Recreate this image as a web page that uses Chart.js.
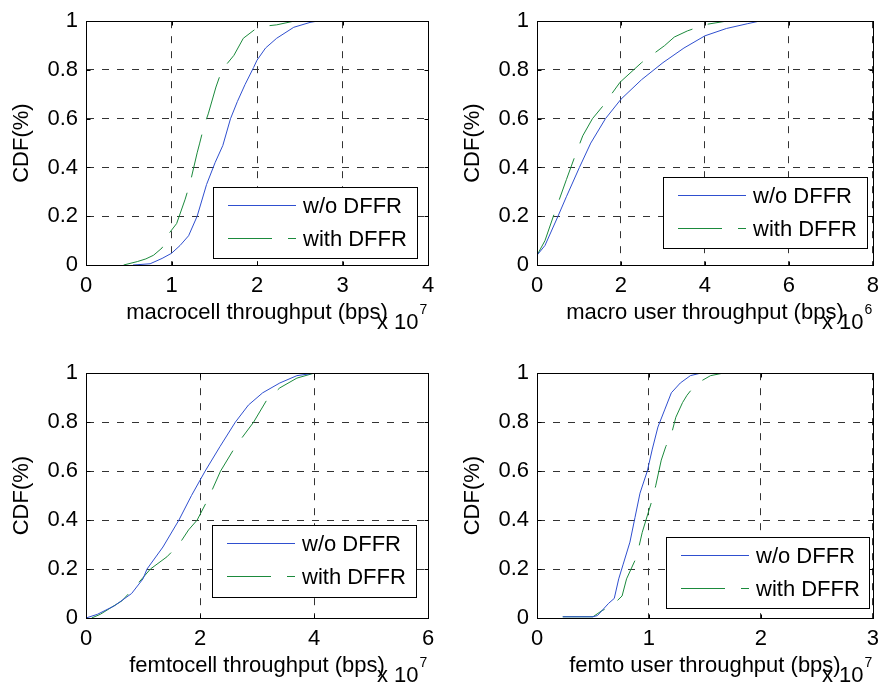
<!DOCTYPE html>
<html>
<head>
<meta charset="utf-8">
<script src="https://cdn.jsdelivr.net/npm/chart.js@4/dist/chart.umd.min.js"></script>
<style>
  html, body { margin: 0; padding: 0; background: #fff; overflow: hidden; }
  #wrap { position: relative; width: 887px; height: 687px; }
  canvas { position: absolute; }
</style>
</head>
<body>
<div id="wrap">
  <canvas id="c1" width="443" height="343" style="left:0;top:0"></canvas>
  <canvas id="c2" width="436" height="343" style="left:451px;top:0"></canvas>
  <canvas id="c3" width="443" height="335" style="left:0;top:352px"></canvas>
  <canvas id="c4" width="436" height="335" style="left:451px;top:352px"></canvas>
</div>
<script>
// series names
var seriesNames = ['w/o DFFR', 'with DFFR'];

// macrocell throughput (x 10^7 bps)
var macroCellX_wo   = [0.55, 0.75, 0.89, 1.0, 1.1, 1.2, 1.3, 1.41, 1.51, 1.6, 1.69, 1.77, 1.86, 1.96, 2.0, 2.1, 2.23, 2.43, 2.62, 2.7, 3.25];
var macroCellCdf_wo = [0, 0.005, 0.027, 0.048, 0.08, 0.12, 0.2, 0.33, 0.42, 0.49, 0.6, 0.67, 0.74, 0.81, 0.84, 0.89, 0.93, 0.975, 0.995, 1, 1];
var macroCellX_with   = [0.44, 0.6, 0.7, 0.79, 0.89, 0.95, 1.06, 1.16, 1.22, 1.3, 1.33, 1.38, 1.43, 1.52, 1.59, 1.73, 1.84, 1.99, 2.1, 2.23, 2.43, 2.7];
var macroCellCdf_with = [0, 0.014, 0.025, 0.04, 0.07, 0.12, 0.17, 0.27, 0.34, 0.46, 0.5, 0.57, 0.62, 0.73, 0.8, 0.86, 0.93, 0.97, 0.98, 0.985, 1, 1];

// macro user throughput (x 10^6 bps)
var macroUserX_wo   = [0, 0.19, 0.5, 0.7, 1.01, 1.28, 1.63, 2.0, 2.49, 3.0, 3.5, 4.0, 4.51, 5.02, 5.29, 6.3];
var macroUserCdf_wo = [0.04, 0.08, 0.2, 0.28, 0.4, 0.5, 0.6, 0.68, 0.76, 0.83, 0.89, 0.94, 0.97, 0.99, 1, 1];
var macroUserX_with   = [0, 0.19, 0.43, 0.7, 0.89, 1.09, 1.32, 1.56, 1.98, 2.49, 3.04, 3.27, 3.58, 4.0, 4.5, 5.6];
var macroUserCdf_with = [0.04, 0.1, 0.22, 0.35, 0.44, 0.53, 0.6, 0.65, 0.75, 0.83, 0.9, 0.935, 0.96, 0.986, 1, 1];

// femtocell throughput (x 10^7 bps)
var femtoCellX_wo   = [0, 0.2, 0.5, 0.8, 1.0, 1.07, 1.35, 1.63, 1.85, 2.09, 2.35, 2.62, 2.85, 3.1, 3.4, 3.7, 4.0];
var femtoCellCdf_wo = [0, 0.015, 0.05, 0.1, 0.16, 0.2, 0.29, 0.4, 0.5, 0.6, 0.7, 0.8, 0.87, 0.92, 0.96, 0.99, 1];
var femtoCellX_with   = [0.1, 0.25, 0.63, 0.87, 1.13, 1.42, 1.63, 1.8, 1.95, 2.15, 2.36, 2.62, 2.94, 3.17, 3.4, 3.7, 4.0, 4.3];
var femtoCellCdf_with = [0, 0.015, 0.07, 0.13, 0.2, 0.25, 0.3, 0.36, 0.4, 0.49, 0.6, 0.7, 0.8, 0.89, 0.94, 0.98, 1, 1];

// femto user throughput (x 10^7 bps)
var femtoUserX_wo   = [0.23, 0.5, 0.54, 0.64, 0.69, 0.73, 0.77, 0.83, 0.875, 0.92, 0.985, 1.03, 1.08, 1.14, 1.2, 1.28, 1.37, 1.46];
var femtoUserCdf_wo = [0.005, 0.005, 0.01, 0.06, 0.08, 0.16, 0.22, 0.31, 0.41, 0.51, 0.6, 0.69, 0.78, 0.85, 0.92, 0.96, 0.99, 1];
var femtoUserX_with   = [0.23, 0.5, 0.58, 0.67, 0.76, 0.8, 0.89, 0.94, 1.02, 1.06, 1.11, 1.15, 1.2, 1.24, 1.3, 1.34, 1.42, 1.55, 1.66, 2.0];
var femtoUserCdf_with = [0.005, 0.005, 0.03, 0.05, 0.09, 0.16, 0.25, 0.35, 0.47, 0.54, 0.645, 0.7, 0.75, 0.82, 0.88, 0.91, 0.956, 0.99, 1, 1];

// axes
var yTicks = [0, 0.2, 0.4, 0.6, 0.8, 1];
var xMax = [4, 8, 6, 3];
var xStep = [1, 2, 2, 1];
var xTitles = ['macrocell throughput (bps)', 'macro user throughput (bps)', 'femtocell throughput (bps)', 'femto user throughput (bps)'];
var xExponent = ['7', '6', '7', '7'];

var FONT = '"Liberation Sans", Arial, sans-serif';
var FS = 22;
var BLUE = '#2f4fcf';
var GREEN = '#1b8a3c';
var LINE_DASH = [44, 16];

Chart.defaults.font.family = FONT;
Chart.defaults.color = '#000';

function pts(xs, ys) {
    var out = [];
    for (var i = 0; i < xs.length; i++) out.push({ x: xs[i], y: ys[i] });
    return out;
}

// draws the matlab-like box, inward ticks, titles and legend
var matlabAxes = {
    id: 'matlabAxes',
    afterDraw: function (chart, args, opts) {
        var ctx = chart.ctx, a = chart.chartArea;
        var xs = chart.scales.x, ys = chart.scales.y;
        var L = Math.round(a.left) + 0.5, R = Math.round(a.right) + 0.5;
        var T = Math.round(a.top) + 0.5, B = Math.round(a.bottom) + 0.5;
        ctx.save();
        ctx.strokeStyle = '#000';
        ctx.lineWidth = 1;
        ctx.setLineDash([]);
        ctx.beginPath();
        xs.ticks.forEach(function (t) {
            var px = Math.round(xs.getPixelForValue(t.value)) + 0.5;
            ctx.moveTo(px, B); ctx.lineTo(px, B - 4);
            ctx.moveTo(px, T); ctx.lineTo(px, T + 4);
        });
        ys.ticks.forEach(function (t) {
            var py = Math.round(ys.getPixelForValue(t.value)) + 0.5;
            ctx.moveTo(L, py); ctx.lineTo(L + 4, py);
            ctx.moveTo(R, py); ctx.lineTo(R - 4, py);
        });
        ctx.stroke();
        ctx.strokeRect(L, T, R - L, B - T);

        // axis titles
        ctx.fillStyle = '#000';
        ctx.font = FS + 'px ' + FONT;
        ctx.textAlign = 'center';
        ctx.textBaseline = 'alphabetic';
        ctx.fillText(opts.xTitle, (a.left + a.right) / 2, a.bottom + 54);
        ctx.save();
        ctx.translate(a.left - 64, (a.top + a.bottom) / 2);
        ctx.rotate(-Math.PI / 2);
        ctx.textBaseline = 'middle';
        ctx.fillText('CDF(%)', 0, 0);
        ctx.restore();

        // x 10^n
        ctx.textAlign = 'left';
        var ex = a.right - 51;
        ctx.fillText('x 10', ex, a.bottom + 64);
        var w = ctx.measureText('x 10').width;
        ctx.font = '14px ' + FONT;
        ctx.fillText(opts.exponent, ex + w + 1, a.bottom + 49);

        // legend
        var lg = opts.legend;
        ctx.fillStyle = '#fff';
        ctx.fillRect(lg.x, lg.y, lg.w, lg.h);
        ctx.strokeRect(lg.x + 0.5, lg.y + 0.5, lg.w, lg.h);
        ctx.font = FS + 'px ' + FONT;
        ctx.textBaseline = 'middle';
        chart.data.datasets.forEach(function (ds, i) {
            var ry = Math.round(lg.y + 18 + i * 33) + 0.5;
            ctx.strokeStyle = ds.borderColor;
            ctx.setLineDash(ds.borderDash || []);
            ctx.beginPath();
            ctx.moveTo(lg.x + 15, ry);
            ctx.lineTo(lg.x + 83, ry);
            ctx.stroke();
            ctx.fillStyle = '#000';
            ctx.fillText(ds.label, lg.x + 90, ry + 1);
        });
        ctx.restore();
    }
};

function makeChart(id, wo, wi, idx, canvasH, legendBox) {
    var plotBottom = idx < 2 ? 265 : 266;
    var canvas = document.getElementById(id);
    var rightPad = canvas.width - 428;
    return new Chart(canvas, {
        type: 'scatter',
        data: {
            datasets: [
                { label: seriesNames[0], data: wo, showLine: true, borderColor: BLUE, borderWidth: 1, pointRadius: 0, tension: 0 },
                { label: seriesNames[1], data: wi, showLine: true, borderColor: GREEN, borderWidth: 1, borderDash: LINE_DASH, pointRadius: 0, tension: 0 }
            ]
        },
        options: {
            responsive: false,
            animation: false,
            devicePixelRatio: 1,
            layout: { padding: { left: 0, top: 21, right: rightPad, bottom: 0 } },
            scales: {
                x: {
                    type: 'linear', min: 0, max: xMax[idx],
                    afterFit: function (s) { s.height = canvasH - plotBottom; },
                    ticks: { stepSize: xStep[idx], font: { size: FS }, padding: 8, maxRotation: 0, color: '#000' },
                    grid: { color: '#333', lineWidth: 1, drawTicks: false },
                    border: { display: true, color: '#000', width: 1, dash: [7, 8] }
                },
                y: {
                    type: 'linear', min: 0, max: 1,
                    afterFit: function (s) { s.width = 86; },
                    afterBuildTicks: function (s) { s.ticks = yTicks.map(function (v) { return { value: v }; }); },
                    ticks: { font: { size: FS }, padding: 8, color: '#000', callback: function (v) { return String(v); } },
                    grid: { color: '#333', lineWidth: 1, drawTicks: false },
                    border: { display: true, color: '#000', width: 1, dash: [7, 8] }
                }
            },
            plugins: {
                legend: { display: false },
                tooltip: { enabled: false },
                matlabAxes: { xTitle: xTitles[idx], exponent: xExponent[idx], legend: legendBox }
            }
        },
        plugins: [matlabAxes]
    });
}

makeChart('c1', pts(macroCellX_wo, macroCellCdf_wo), pts(macroCellX_with, macroCellCdf_with), 0, 343, { x: 213, y: 187, w: 204, h: 71 });
makeChart('c2', pts(macroUserX_wo, macroUserCdf_wo), pts(macroUserX_with, macroUserCdf_with), 1, 343, { x: 212, y: 177, w: 204, h: 71 });
makeChart('c3', pts(femtoCellX_wo, femtoCellCdf_wo), pts(femtoCellX_with, femtoCellCdf_with), 2, 335, { x: 212, y: 173, w: 204, h: 72 });
makeChart('c4', pts(femtoUserX_wo, femtoUserCdf_wo), pts(femtoUserX_with, femtoUserCdf_with), 3, 335, { x: 215, y: 185, w: 203, h: 71 });
</script>
</body>
</html>
